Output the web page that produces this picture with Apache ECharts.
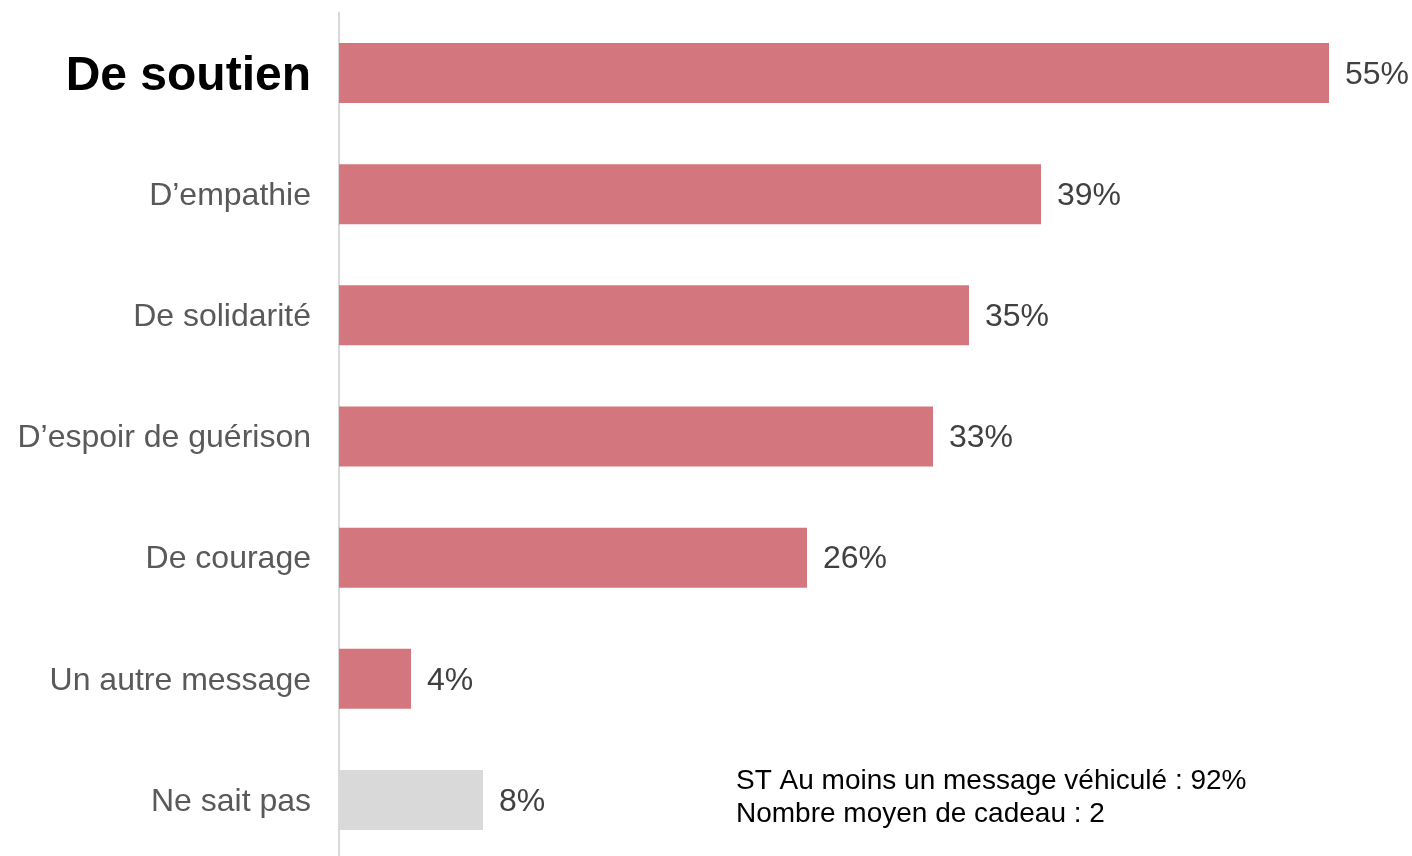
<!DOCTYPE html>
<html>
<head>
<meta charset="utf-8">
<script src="https://cdn.jsdelivr.net/npm/echarts@6/dist/echarts.min.js"></script>
<style>html,body{margin:0;padding:0;background:#fff}#c{width:1412px;height:856px}</style>
</head>
<body>
<div id="c"></div>
<script>
const categories = ["De soutien", "D’empathie", "De solidarité", "D’espoir de guérison", "De courage", "Un autre message", "Ne sait pas"];
const values = [55, 39, 35, 33, 26, 4, 8];
const barColors = ["#d3767e", "#d3767e", "#d3767e", "#d3767e", "#d3767e", "#d3767e", "#d9d9d9"];
const noteLines = ["ST Au moins un message véhiculé : 92%", "Nombre moyen de cadeau : 2"];

const chart = echarts.init(document.getElementById('c'));
chart.setOption({
  animation: false,
  grid: { left: 339, right: 11, top: 12.5, height: 848, outerBoundsMode: 'none' },
  xAxis: { type: 'value', min: 0, max: 59, show: false },
  yAxis: {
    type: 'category', inverse: true, data: categories,
    axisLine: { show: true, lineStyle: { color: '#d9d9d9', width: 2 } },
    axisTick: { show: false },
    axisLabel: {
      margin: 28,
      formatter: (v, i) => i === 0 ? '{b|' + v + '}' : '{n|' + v + '}',
      rich: {
        b: { fontFamily: 'Liberation Sans, Arial', fontSize: 48, fontWeight: 'bold', color: '#000', padding: [8, 0, 0, 0] },
        n: { fontFamily: 'Liberation Sans, Arial', fontSize: 32, color: '#595959', padding: [4, 0, 0, 0] }
      }
    }
  },
  series: [{
    type: 'bar', barWidth: 60,
    data: values.map((v, i) => ({ value: v, itemStyle: { color: barColors[i] } })),
    label: {
      show: true, position: 'right', distance: 16, offset: [0, 2],
      formatter: '{c}%',
      fontFamily: 'Liberation Sans, Arial', fontSize: 32, color: '#404040'
    }
  }],
  graphic: [{
    type: 'text', left: 736, top: 765,
    style: { text: noteLines.join('\n'), fontFamily: 'Liberation Sans, Arial', fontSize: 28, lineHeight: 33, fill: '#000' }
  }]
});
</script>
</body>
</html>
